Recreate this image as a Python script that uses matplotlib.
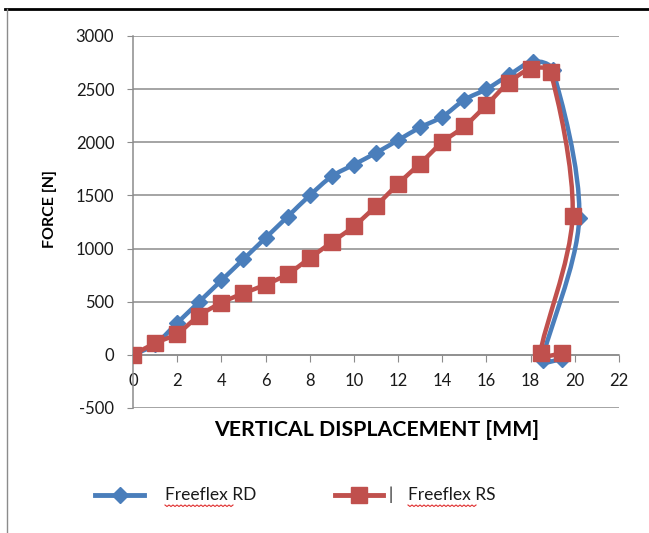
import numpy as np
import matplotlib
matplotlib.use("Agg")
import matplotlib.pyplot as plt
from matplotlib.path import Path
from matplotlib.patches import PathPatch
from matplotlib.lines import Line2D

plt.rcParams['font.family'] = ['Lato', 'DejaVu Sans']
plt.rcParams['axes.unicode_minus'] = False

# data
rd_x = [0, 1, 2, 3, 4, 5, 6, 7, 8, 9, 10, 11, 12, 13, 14, 15, 16, 17, 18.1, 19.0, 20.2, 18.55, 19.4]
rd_y = [0, 100, 300, 500, 700, 900, 1100, 1300, 1500, 1680, 1790, 1900, 2020, 2140, 2240,
        2400, 2500, 2630, 2760, 2680, 1290, -45, -40]
rs_x = [0, 1, 2, 3, 4, 5, 6, 7, 8, 9, 10, 11, 12, 13, 14, 15, 16, 17, 18, 18.9, 19.9, 18.45, 19.4]
rs_y = [0, 110, 200, 370, 490, 580, 660, 760, 910, 1060, 1210, 1400, 1610, 1800, 2000,
        2150, 2350, 2560, 2690, 2660, 1310, 15, 15]

x_ticks = list(range(0, 23, 2))
y_ticks = list(range(-500, 3001, 500))

BLUE = '#4a7ebb'
RED = '#c0504d'
GRID = '#8c8c8c'


def smooth_path(ax, xs, ys):
    # Excel style smoothed line: cubic bezier through every point,
    # handles worked out in screen space and kept short to avoid overshoot
    tr = ax.transData
    p = tr.transform(np.column_stack([xs, ys]).astype(float))
    n = len(p)
    verts = [p[0]]
    codes = [Path.MOVETO]

    def clamp(v, lim):
        L = np.hypot(*v)
        return v if L <= lim or L == 0 else v * lim / L

    for i in range(n - 1):
        prev = p[i - 1] if i > 0 else p[i]
        nxt = p[i + 2] if i + 2 < n else p[i + 1]
        seg = np.hypot(*(p[i + 1] - p[i]))
        c1 = p[i] + clamp((p[i + 1] - prev) / 6.0, seg / 3)
        c2 = p[i + 1] - clamp((nxt - p[i]) / 6.0, seg / 3)
        verts += [c1, c2, p[i + 1]]
        codes += [Path.CURVE4] * 3
    verts = tr.inverted().transform(np.array(verts))
    return Path(verts, codes)


fig = plt.figure(figsize=(6.49, 5.33), dpi=100)
ax = fig.add_axes([133 / 649, 1 - 408 / 533, 486 / 649, 372 / 533])

ax.set_xlim(0, 22)
ax.set_ylim(-500, 3000)
ax.set_xticks(x_ticks)
ax.set_yticks(y_ticks)
ax.set_xticklabels([str(t) for t in x_ticks])
ax.set_yticklabels([str(t) for t in y_ticks])

ax.grid(axis='y', color=GRID, linewidth=1.1)
ax.set_axisbelow(True)
for s in ['top', 'right']:
    ax.spines[s].set_visible(False)
ax.spines['bottom'].set_position(('data', 0))
ax.spines['bottom'].set_color(GRID)
ax.spines['left'].set_color(GRID)
ax.spines['bottom'].set_linewidth(1.1)
ax.spines['left'].set_linewidth(1.1)
ax.tick_params(axis='x', direction='out', length=5, color=GRID, pad=8, labelsize=12)
ax.tick_params(axis='y', direction='out', length=4.5, color=GRID, pad=9, labelsize=12)
for lab in ax.get_xticklabels() + ax.get_yticklabels():
    lab.set_color('#1a1a1a')

ax.add_patch(PathPatch(smooth_path(ax, rd_x, rd_y), facecolor='none', edgecolor=BLUE,
                       linewidth=3.2, zorder=3, capstyle='round'))
ax.plot(rd_x, rd_y, ls='none', marker='D', markersize=8, color=BLUE, zorder=3)
ax.add_patch(PathPatch(smooth_path(ax, rs_x, rs_y), facecolor='none', edgecolor=RED,
                       linewidth=3.2, zorder=4, capstyle='round'))
ax.plot(rs_x, rs_y, ls='none', marker='s', markersize=12, color=RED, zorder=4)

fig.text(50 / 649, 1 - 209 / 533, 'FORCE [N]', rotation=90, ha='center', va='center',
         fontsize=11.5, fontweight='bold')
fig.text(377 / 649, 1 - 430 / 533, 'VERTICAL DISPLACEMENT [MM]', ha='center', va='center',
         fontsize=15.3, fontweight='bold')

# legend drawn by hand to match the placement
ly = 1 - 495 / 533
fig.add_artist(Line2D([95 / 649, 144 / 649], [ly, ly], color=BLUE, linewidth=3.5,
                      transform=fig.transFigure))
fig.add_artist(Line2D([119.5 / 649], [ly], color=BLUE, marker='D', markersize=8,
                      transform=fig.transFigure))
fig.add_artist(Line2D([335 / 649, 383 / 649], [ly, ly], color=RED, linewidth=3.5,
                      transform=fig.transFigure))
fig.add_artist(Line2D([359 / 649], [ly], color=RED, marker='s', markersize=12,
                      transform=fig.transFigure))
fig.text(388 / 649, ly, '|', ha='left', va='center', fontsize=12, color='#1a1a1a')
fig.text(165 / 649, ly, 'Freeflex RD', ha='left', va='center', fontsize=12.5, color='#1a1a1a')
fig.text(408 / 649, ly, 'Freeflex RS', ha='left', va='center', fontsize=12.5, color='#1a1a1a')

# spell-check squiggles under "Freeflex"
for x0 in [165, 408]:
    zx = [(x0 + 2 * k) / 649 for k in range(35)]
    zy = [1 - (505 + (k % 2) * 1.5) / 533 for k in range(35)]
    fig.add_artist(Line2D(zx, zy, color='#e03030', linewidth=0.8, transform=fig.transFigure))

# frame of the screenshot
fig.add_artist(Line2D([5 / 649, 1], [1 - 9 / 533, 1 - 9 / 533], color='black', linewidth=2,
                      transform=fig.transFigure))
fig.add_artist(Line2D([7 / 649, 7 / 649], [0, 1 - 9 / 533], color='#8c8c8c', linewidth=1,
                      transform=fig.transFigure))

fig.savefig('out.png', dpi=100)
